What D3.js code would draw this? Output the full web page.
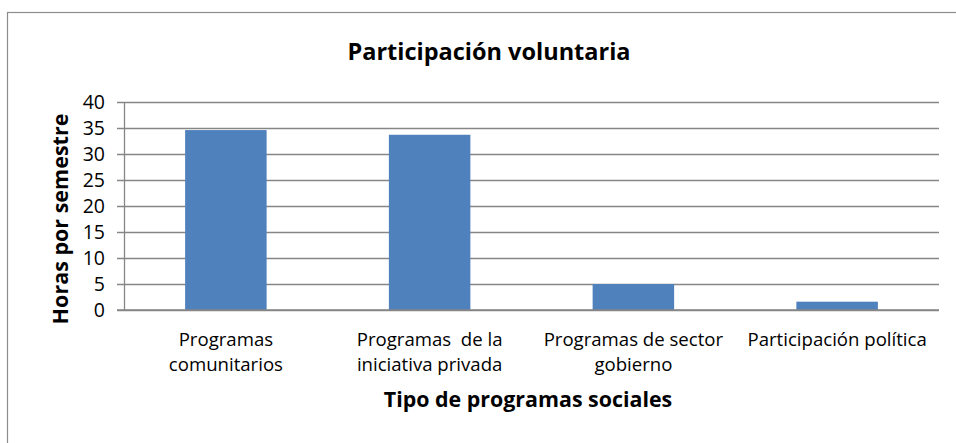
<!DOCTYPE html>
<html>
<head>
<meta charset="utf-8">
<script src="https://cdn.jsdelivr.net/npm/d3@7"></script>
<style>
  html, body { margin: 0; padding: 0; background: #fff; }
  text { font-family: "Open Sans", "Liberation Sans", Arial, sans-serif; fill: #000; }
</style>
</head>
<body>
<svg id="chart" width="956" height="443"></svg>
<script>
const categories = ["Programas comunitarios", "Programas  de la iniciativa privada", "Programas de sector gobierno", "Participación política"];
const categoryLines = [["Programas", "comunitarios"], ["Programas  de la", "iniciativa privada"], ["Programas de sector", "gobierno"], ["Participación política"]];
const values = [34.6, 33.7, 5.0, 1.6];
const yTicks = [0, 5, 10, 15, 20, 25, 30, 35, 40];
const title = "Participación voluntaria";
const xTitle = "Tipo de programas sociales";
const yTitle = "Horas por semestre";

const svg = d3.select("#chart");
const margin = { left: 124, right: 17, top: 102, bottom: 133 };
const W = 956, H = 443;
const pw = W - margin.left - margin.right;
const ph = H - margin.top - margin.bottom;

// outer frame
svg.append("rect").attr("x", 7.5).attr("y", 12.5).attr("width", 980).attr("height", 460)
  .attr("fill", "none").attr("stroke", "#8c8c8c").attr("stroke-width", 1.2);

const g = svg.append("g").attr("transform", `translate(${margin.left},${margin.top})`);

const x = d3.scaleBand().domain(categories).range([0, pw]).paddingInner(0.6).paddingOuter(0.3);
const y = d3.scaleLinear().domain([0, 40]).range([ph, 0]);

// gridlines + y axis with ticks
const yAxis = d3.axisLeft(y).tickValues(yTicks).tickSize(-pw).tickPadding(19).tickFormat(d3.format("d"));
const ya = g.append("g").call(yAxis);
ya.select(".domain").remove();
ya.selectAll(".tick line").attr("stroke", "#868686").attr("stroke-width", 1.3).attr("x1", -7);
ya.selectAll(".tick text").attr("font-size", 19.5).attr("fill", "#000").attr("dy", "0.35em");

// y axis line
g.append("line").attr("x1", 0.5).attr("x2", 0.5).attr("y1", 0).attr("y2", ph)
  .attr("stroke", "#868686").attr("stroke-width", 1.3);

// bars
g.selectAll("rect.bar").data(values).enter().append("rect")
  .attr("class", "bar")
  .attr("x", (d, i) => x(categories[i]))
  .attr("width", x.bandwidth())
  .attr("y", d => y(d))
  .attr("height", d => ph - y(d))
  .attr("fill", "#4f81bd");

// x axis line on top
g.append("line").attr("x1", -7).attr("x2", pw).attr("y1", ph).attr("y2", ph)
  .attr("stroke", "#868686").attr("stroke-width", 1.3);

// category labels
categories.forEach((c, i) => {
  const cx = x(c) + x.bandwidth() / 2;
  const t = g.append("text").attr("text-anchor", "middle").attr("font-size", 18.6)
    .attr("transform", `translate(${cx},${ph + 36})`);
  categoryLines[i].forEach((ln, j) => {
    t.append("tspan").attr("x", 0).attr("y", j * 25).attr("xml:space", "preserve").text(ln);
  });
});

// titles
svg.append("text").attr("x", 489).attr("y", 60).attr("text-anchor", "middle")
  .attr("font-size", 23.5).attr("font-weight", "bold").text(title);
svg.append("text").attr("x", 528).attr("y", 407).attr("text-anchor", "middle")
  .attr("font-size", 21.4).attr("font-weight", "bold").text(xTitle);
svg.append("text").attr("transform", "translate(68,219) rotate(-90)").attr("text-anchor", "middle")
  .attr("font-size", 21.5).attr("font-weight", "bold").text(yTitle);
</script>
</body>
</html>
